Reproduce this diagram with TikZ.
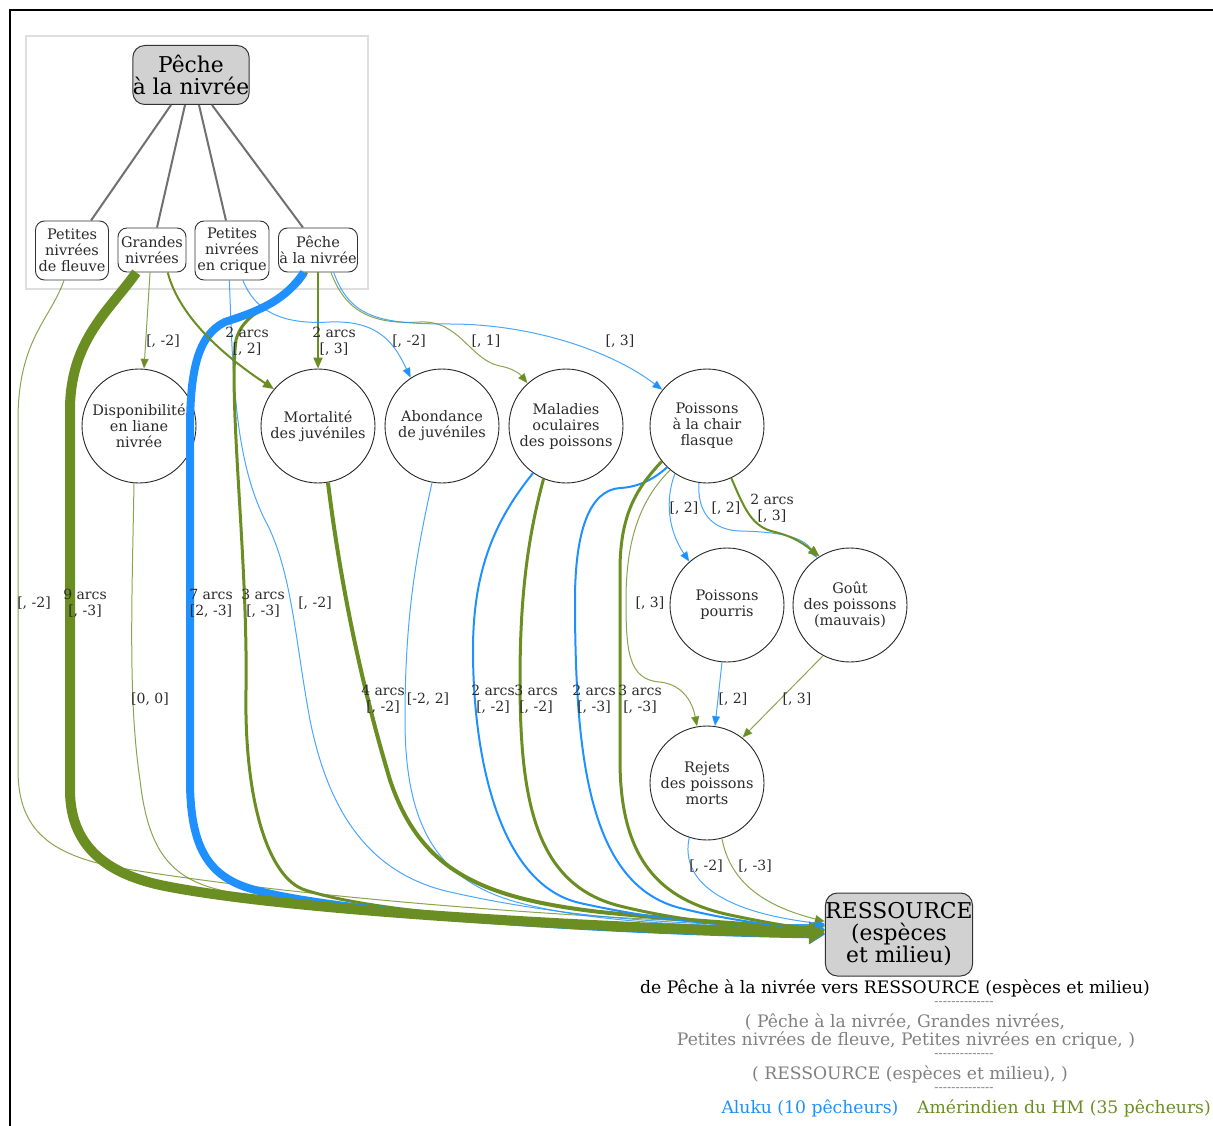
\documentclass[tikz,border=0pt]{standalone}
\usepackage{fontspec}
\setmainfont{DejaVu Serif}
\usetikzlibrary{arrows.meta}
\definecolor{ablue}{HTML}{1E90FF}
\definecolor{aolive}{HTML}{6B8E23}
\definecolor{treegray}{HTML}{707070}
\definecolor{leggray}{HTML}{808080}
\definecolor{txt}{HTML}{2A2A2A}
\newcommand\myhy{\mbox{-}}
\newcommand\dashrow{\myhy\myhy\myhy\myhy\myhy\myhy\myhy\myhy\myhy\myhy\myhy\myhy\myhy\myhy}
\begin{document}
\begin{tikzpicture}[x=1pt,y=-1pt,
  every node/.style={inner sep=0pt},
  sub/.style={draw=black!80, fill=white, rounded corners=9pt, align=center,
    font=\fontsize{14.5}{16}\selectfont, line width=0.9pt, text=txt},
  bigbox/.style={draw=black!80, fill=black!18, rounded corners=12pt, align=center,
    font=\fontsize{21.8}{24}\selectfont, line width=1pt, text=black},
  circ/.style={draw=black!85, fill=white, circle, minimum size=114pt, align=center,
    font=\fontsize{14.5}{16}\selectfont, line width=0.9pt, text=txt},
  lbl/.style={align=center, font=\fontsize{14}{16}\selectfont, text=txt},
  leg/.style={font=\fontsize{17.2}{18}\selectfont},
  dashleg/.style={font=\fontsize{12.5}{13}\selectfont, text=leggray},
  tree/.style={draw=treegray, line width=2pt},
  e1/.style={line width=1pt, draw opacity=0.8, -{Triangle[length=10pt,width=8pt]}},
  e2/.style={line width=2pt, -{Triangle[length=11pt,width=9pt]}},
  e3/.style={line width=3pt, -{Triangle[length=12pt,width=10pt]}},
  e4/.style={line width=4pt, -{Triangle[length=13pt,width=12pt]}},
  e8/.style={line width=8pt, -{Triangle[length=15pt,width=18pt]}},
  e10/.style={line width=10pt, -{Triangle[length=16pt,width=22pt]}}
]
\useasboundingbox (0,0) rectangle (1213,1126);
% frame and cluster
\draw[line width=2pt, black] (10,1126) -- (10,10) -- (1213,10);
\draw[line width=1.5pt, black!13] (26,36) rectangle (368,289);

% nodes
\node[bigbox, minimum width=114pt, minimum height=59pt] (top) at (191,75) {Pêche\\[-2pt]à la nivrée};
\node[sub, minimum width=73pt, minimum height=59pt] (FL) at (72,250.5) {Petites\\nivrées\\de fleuve};
\node[sub, minimum width=68pt, minimum height=44pt] (GN) at (152,250) {Grandes\\nivrées};
\node[sub, minimum width=74pt, minimum height=59pt] (CQ) at (232,250.5) {Petites\\nivrées\\en crique};
\node[sub, minimum width=79pt, minimum height=44pt] (PN) at (318,250) {Pêche\\à la nivrée};

\node[circ] (DL) at (139,426) {Disponibilité\\en liane\\nivrée};
\node[circ] (MJ) at (318,426) {Mortalité\\des juvéniles};
\node[circ] (AB) at (442,426) {Abondance\\de juvéniles};
\node[circ] (MO) at (566,426) {Maladies\\oculaires\\des poissons};
\node[circ] (PC) at (707,426) {Poissons\\à la chair\\flasque};
\node[circ] (PP) at (727,605) {Poissons\\pourris};
\node[circ] (GP) at (850,605) {Goût\\des poissons\\(mauvais)};
\node[circ] (RJ) at (707,783) {Rejets\\des poissons\\morts};
\node[bigbox, minimum width=146pt, minimum height=83pt] (RES) at (899,934.5) {RESSOURCE\\[-2pt](espèces\\[-2pt]et milieu)};

% tree edges
\draw[tree] ([xshift=-20pt]top.south) -- ([xshift=19pt]FL.north);
\draw[tree] ([xshift=-6pt]top.south) -- ([xshift=5pt]GN.north);
\draw[tree] ([xshift=8pt]top.south) -- ([xshift=-6pt]CQ.north);
\draw[tree] ([xshift=21pt]top.south) -- ([xshift=-15pt]PN.north);

% edges to RESSOURCE (back to front)
\draw[e1,aolive] (FL.255) .. controls (50,320) and (18,340) .. (18,420) -- (18,770)
  .. controls (18,830) and (50,855) .. (120,868) .. controls (350,905) and (650,922) .. (RES.173);
\draw[e1,aolive] (DL.265) .. controls (132,600) and (128,700) .. (140,780)
  .. controls (148,850) and (170,878) .. (220,890) .. controls (350,921) and (650,925) .. (RES.174);
\draw[e1,ablue] (CQ.265) .. controls (233,380) and (235,460) .. (265,520)
  .. controls (292,570) and (295,640) .. (310,720) .. controls (330,820) and (375,875) .. (450,892)
  .. controls (600,926) and (750,926) .. (RES.172);
\draw[e1,ablue] (AB.260) .. controls (415,560) and (405,620) .. (405,720)
  .. controls (405,830) and (440,882) .. (520,903) .. controls (620,929) and (760,926) .. (RES.173);
\draw[e3,aolive] (PN.243) .. controls (290,305) and (245,305) .. (236,340)
  .. controls (228,400) and (248,560) .. (246,690) .. controls (244,800) and (268,878) .. (305,890)
  .. controls (405,922) and (650,926) .. (RES.177);
\draw[e8,ablue] (PN.238) .. controls (285,300) and (262,310) .. (225,322)
  .. controls (198,335) and (190,370) .. (190,430) -- (190,780)
  .. controls (190,850) and (210,878) .. (255,890) .. controls (355,917) and (650,932) .. (RES.180);
\draw[e10,aolive] (GN.235) .. controls (110,310) and (70,340) .. (70,410) -- (70,790)
  .. controls (70,852) and (115,876) .. (165,886) .. controls (300,913) and (650,930) .. (RES.179);
\draw[e4,aolive] (MJ.280) .. controls (340,580) and (360,680) .. (390,780)
  .. controls (420,870) and (480,898) .. (600,912) .. controls (700,922) and (780,926) .. (RES.176);
\draw[e2,ablue] (MO.235) .. controls (495,520) and (473,570) .. (473,650)
  .. controls (473,760) and (500,885) .. (580,903) .. controls (680,925.5) and (770,928) .. (RES.176);
\draw[e3,aolive] (MO.247) .. controls (527,540) and (520,600) .. (520,680)
  .. controls (520,800) and (535,885) .. (620,906) .. controls (700,926) and (780,928) .. (RES.177);
\draw[e2,ablue] (PC.226) .. controls (655,478) and (640,487) .. (620,488)
  .. controls (590,490) and (575,530) .. (575,600) .. controls (575,760) and (590,885) .. (680,908)
  .. controls (740,923) and (790,927) .. (RES.176);
\draw[e3,aolive] (PC.218) .. controls (640,485) and (620,510) .. (620,570) -- (620,760)
  .. controls (620,860) and (660,900) .. (730,915) .. controls (770,923.5) and (800,928) .. (RES.178);
\draw[e1,ablue] (RJ.252) .. controls (680,880) and (720,912) .. (RES.172);
\draw[e1,aolive] (RJ.285) .. controls (730,880) and (760,905) .. (RES.170);

% other edges
\draw[e1,aolive] (GN.265) -- (DL.85);
\draw[e2,aolive] (GN.305) .. controls (180,320) and (230,360) .. (MJ.140);
\draw[e2,aolive] (PN.south) -- (MJ.north);
\draw[e1,ablue] (CQ.290) .. controls (255,310) and (280,325) .. (330,322)
  .. controls (380,320) and (395,345) .. (AB.123);
\draw[e1,aolive] (PN.300) .. controls (345,310) and (370,325) .. (420,322)
  .. controls (460,320) and (470,360) .. (500,366) .. controls (512,368) and (520,374) .. (MO.132);
\draw[e1,ablue] (PN.305) .. controls (350,318) and (380,324) .. (450,324)
  .. controls (530,324) and (610,350) .. (PC.141);
\draw[e1,aolive] (PC.230) .. controls (640,500) and (626,540) .. (626,600)
  .. controls (626,650) and (628,680) .. (660,682) .. controls (685,685) and (693,705) .. (RJ.100);
\draw[e1,ablue] (PC.236) .. controls (665,500) and (668,530) .. (PP.131);
\draw[e1,ablue] (PC.262) .. controls (697,510) and (710,530) .. (740,531)
  .. controls (790,532) and (805,540) .. (GP.125);
\draw[e2,aolive] (PC.295) .. controls (745,510) and (752,527) .. (775,532)
  .. controls (795,537) and (805,545) .. (GP.122);
\draw[e1,ablue] (PP.265) -- (RJ.82);
\draw[e1,aolive] (GP.242) -- (RJ.52);

% edge labels
\node[lbl] (l1) at (34,603) {{[}, -2]};
\node[lbl] (l2) at (85,603) {9 arcs\\{[}, -3]};
\node[lbl] (l3) at (163,341) {{[}, -2]};
\node[lbl] (l4) at (247,341) {2 arcs\\{[}, 2]};
\node[lbl] (l5) at (334,341) {2 arcs\\{[}, 3]};
\node[lbl] (l6) at (409,341) {{[}, -2]};
\node[lbl] (l7) at (486,341) {{[}, 1]};
\node[lbl] (l8) at (620,341) {{[}, 3]};
\node[lbl] (l9) at (211,603) {7 arcs\\{[}2, -3]};
\node[lbl] (l10) at (263,603) {3 arcs\\{[}, -3]};
\node[lbl] (l11) at (315,603) {{[}, -2]};
\node[lbl] (l12) at (150,699) {{[}0, 0]};
\node[lbl] (l13) at (383,699) {4 arcs\\{[}, -2]};
\node[lbl] (l14) at (428,699) {{[}-2, 2]};
\node[lbl] (l15) at (493,699) {2 arcs\\{[}, -2]};
\node[lbl] (l16) at (536,699) {3 arcs\\{[}, -2]};
\node[lbl] (l17) at (594,699) {2 arcs\\{[}, -3]};
\node[lbl] (l18) at (640,699) {3 arcs\\{[}, -3]};
\node[lbl] (l19) at (684,508) {{[}, 2]};
\node[lbl] (l20) at (726,508) {{[}, 2]};
\node[lbl] (l21) at (772,508) {2 arcs\\{[}, 3]};
\node[lbl] (l22) at (650,603) {{[}, 3]};
\node[lbl] (l23) at (733,699) {{[}, 2]};
\node[lbl] (l24) at (797,699) {{[}, 3]};
\node[lbl] (l25) at (706,866) {{[}, -2]};
\node[lbl] (l26) at (755,866) {{[}, -3]};

% legend
\node[leg, text=black] (g1) at (895,988) {de Pêche à la nivrée vers RESSOURCE (espèces et milieu)};
\node[dashleg] (g2) at (964,1004) {\dashrow};
\node[leg, text=leggray] (g3) at (905,1022) {( Pêche à la nivrée, Grandes nivrées,};
\node[leg, text=leggray] (g4) at (906,1040) {Petites nivrées de fleuve, Petites nivrées en crique, )};
\node[dashleg] (g5) at (964,1056) {\dashrow};
\node[leg, text=leggray] (g6) at (910,1074) {( RESSOURCE (espèces et milieu), )};
\node[dashleg] (g7) at (964,1090) {\dashrow};
\node[leg, text=ablue] (g8) at (810,1108) {Aluku (10 pêcheurs)};
\node[leg, text=aolive] (g9) at (1064,1108) {Amérindien du HM (35 pêcheurs)};
\end{tikzpicture}
\end{document}
